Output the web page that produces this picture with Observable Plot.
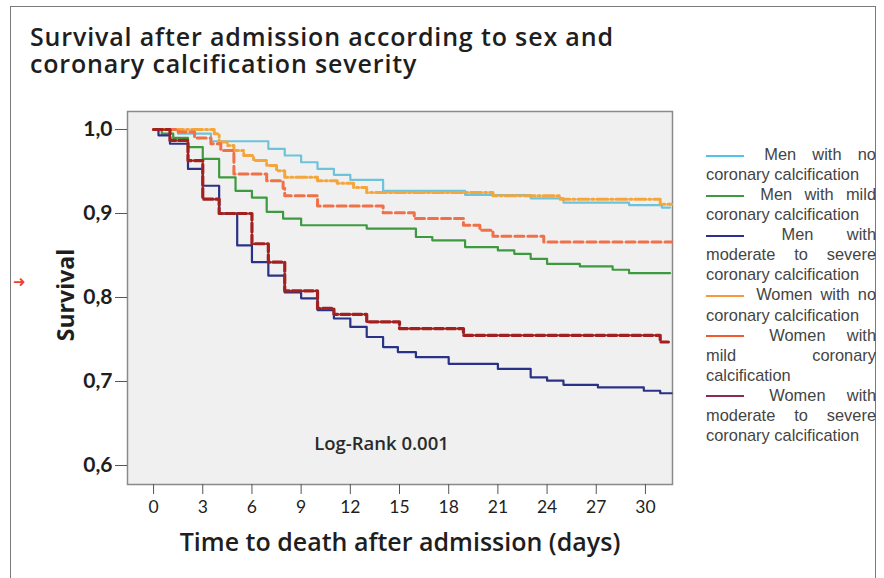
<!DOCTYPE html>
<html>
<head>
<meta charset="utf-8">
<script src="https://cdn.jsdelivr.net/npm/d3@7"></script>
<script src="https://cdn.jsdelivr.net/npm/@observablehq/plot@0.6"></script>
<style>
  html, body { margin: 0; padding: 0; background: #fff; }
  #wrap { position: relative; width: 884px; height: 578px; overflow: hidden; background: #fff; }
  #border { position: absolute; left: 10px; top: 6px; width: 866px; height: 640px; border: 1.5px solid #7a7a7a; box-sizing: border-box; }
  .title { position: absolute; left: 30px; height: 26px; font-family: "Open Sans", Lato, sans-serif; font-weight: 600; font-size: 25px; line-height: 26px; letter-spacing: 0.85px; color: #1e1e1e; white-space: nowrap; }
  #t1 { top: 23px; }
  #t2 { top: 50px; }
  #chart { position: absolute; left: 0; top: 0; }
  #ylabel { position: absolute; left: 65px; top: 295px; transform: translate(-50%, -50%) rotate(-90deg); font-family: "Open Sans", Lato, sans-serif; font-weight: 700; font-size: 23px; color: #1e1e1e; white-space: nowrap; }
  #xlabel { position: absolute; left: 400px; top: 541px; transform: translate(-50%, -50%); font-family: "Open Sans", Lato, sans-serif; font-weight: 600; font-size: 25px; color: #1e1e1e; white-space: nowrap; }
  #arrow { position: absolute; left: 13px; top: 273px; font-family: "DejaVu Sans", sans-serif; font-weight: bold; font-size: 15px; color: #e8452c; }
  #legend { position: absolute; left: 706px; top: 144px; width: 170px; font-family: "Liberation Sans", Arial, sans-serif; font-size: 16.4px; line-height: 20.07px; color: #444; }
  #legend .item { text-align: justify; text-align-last: left; }
  #legend .sw { display: inline-block; width: 38px; height: 0; border-top: 2.5px solid; vertical-align: middle; margin-right: 4px; }
</style>
</head>
<body>
<div id="wrap">
  <div id="border"></div>
  <div class="title" id="t1">Survival after admission according to sex and</div>
  <div class="title" id="t2">coronary calcification severity</div>
  <div id="chart"></div>
  <div id="ylabel">Survival</div>
  <div id="xlabel">Time to death after admission (days)</div>
  <div id="arrow">➜</div>
  <div id="legend"></div>
</div>
<script>
// ---- Data ----
const groups = [
  "Men with no coronary calcification",
  "Men with mild coronary calcification",
  "Men with moderate to severe coronary calcification",
  "Women with no coronary calcification",
  "Women with mild coronary calcification",
  "Women with moderate to severe coronary calcification"
];

const menNoDays   = [0, 1.5, 3.5, 7, 8, 9, 10, 11, 12, 14, 19, 23, 25, 29, 31, 31.5];
const menNoSurv   = [1.0, 0.995, 0.986, 0.977, 0.969, 0.961, 0.953, 0.946, 0.940, 0.927, 0.922, 0.918, 0.913, 0.910, 0.907, 0.907];

const menMildDays = [0, 0.5, 1.2, 2.1, 3, 4, 5, 6, 6.9, 7.9, 9, 13, 16, 17, 19, 21, 22, 23, 24, 26, 28, 29, 31.5];
const menMildSurv = [1.0, 0.995, 0.99, 0.979, 0.965, 0.943, 0.927, 0.919, 0.902, 0.894, 0.886, 0.882, 0.872, 0.868, 0.860, 0.856, 0.852, 0.846, 0.840, 0.837, 0.833, 0.829, 0.829];

const menModDays  = [0, 0.3, 1, 2.1, 3, 4, 5.1, 6, 7, 8, 9, 10, 11, 12, 13, 14, 14.9, 16, 18, 21, 23, 24, 25, 27.1, 29.9, 30.9, 31.6];
const menModSurv  = [1.0, 0.993, 0.983, 0.953, 0.933, 0.900, 0.862, 0.842, 0.826, 0.806, 0.799, 0.785, 0.775, 0.765, 0.753, 0.741, 0.735, 0.729, 0.721, 0.715, 0.705, 0.701, 0.696, 0.693, 0.689, 0.686, 0.686];

const womenNoDays   = [0, 3.7, 4, 4.5, 4.9, 5.5, 6.1, 6.9, 7.5, 8, 10, 11.2, 12.2, 13, 20.7, 24.8, 30.9, 31.6];
const womenNoSurv   = [1.0, 0.995, 0.985, 0.981, 0.975, 0.969, 0.963, 0.957, 0.951, 0.943, 0.939, 0.936, 0.931, 0.925, 0.921, 0.917, 0.911, 0.911];

const womenMildDays = [0, 1.5, 2.5, 3.5, 4.1, 4.9, 6.9, 7.9, 8, 10, 14, 15.9, 18.9, 19.9, 20.7, 23.8, 31.6];
const womenMildSurv = [1.0, 0.997, 0.99, 0.983, 0.975, 0.947, 0.939, 0.93, 0.921, 0.909, 0.901, 0.894, 0.886, 0.88, 0.873, 0.866, 0.866];

const womenModDays  = [0, 1, 2.1, 3, 4, 6, 7, 8, 10, 11, 13, 15, 18.9, 30.9, 31.4];
const womenModSurv  = [1.0, 0.987, 0.963, 0.917, 0.900, 0.864, 0.842, 0.808, 0.787, 0.780, 0.771, 0.763, 0.755, 0.747, 0.747];

const xTicks = [0, 3, 6, 9, 12, 15, 18, 21, 24, 27, 30];
const yTicks = [0.6, 0.7, 0.8, 0.9, 1.0];
const logRankText = "Log-Rank 0.001";
const logRankAt = {day: 13.9, surv: 0.626};

// ---- Styles ----
const lineColors   = ["#6cc3dc", "#3d9a3f", "#2a3287", "#f4a53c", "#f07048", "#a2201f"];
const legendColors = ["#4fc3e8", "#3d9a3f", "#2b2f8f", "#f5993a", "#ef5a2e", "#8b2a52"];
const dashes       = [null, null, null, "11,3,2,3", "9,4", "9,3"];
const widths       = [2.2, 2.2, 2.2, 3, 3, 3.2];
const drawOrder    = [0, 1, 2, 3, 4, 5];

const dayArrays  = [menNoDays, menMildDays, menModDays, womenNoDays, womenMildDays, womenModDays];
const survArrays = [menNoSurv, menMildSurv, menModSurv, womenNoSurv, womenMildSurv, womenModSurv];

const tables = dayArrays.map((days, i) => days.map((d, j) => ({day: d, surv: survArrays[i][j], group: groups[i]})));

const chart = Plot.plot({
  width: 884,
  height: 578,
  marginLeft: 127,
  marginRight: 212,
  marginTop: 111,
  marginBottom: 94,
  style: {background: "transparent", fontFamily: "Lato, 'Open Sans', sans-serif", color: "#1e1e1e"},
  x: {domain: [-1.59, 31.65]},
  y: {domain: [0.5774, 1.0214]},
  marks: [
    Plot.frame({fill: "#f0f0f0", stroke: "#8a8a8a", strokeWidth: 1.5}),
    Plot.axisY({ticks: yTicks, tickFormat: d => d.toFixed(1).replace(".", ","), tickSize: 12, tickPadding: 3, fontSize: 21, fontWeight: "bold", label: null, stroke: "#555"}),
    Plot.axisX({ticks: xTicks, tickSize: 10, tickPadding: 6, fontSize: 17.5, label: null, stroke: "#555"}),
    ...drawOrder.map(i => Plot.line(tables[i], {
      x: "day", y: "surv", curve: "step-after",
      stroke: lineColors[i], strokeWidth: widths[i],
      strokeDasharray: dashes[i] ?? undefined
    })),
    Plot.text([logRankText], {x: () => logRankAt.day, y: () => logRankAt.surv, text: d => d, fontSize: 18.5, fontWeight: 600, fontFamily: "'Open Sans', sans-serif", fill: "#2a2a2a"})
  ]
});
document.getElementById("chart").appendChild(chart);

const legend = document.getElementById("legend");
groups.forEach((g, i) => {
  const item = document.createElement("div");
  item.className = "item";
  const sw = document.createElement("span");
  sw.className = "sw";
  sw.style.borderTopColor = legendColors[i];
  item.appendChild(sw);
  item.appendChild(document.createTextNode(" " + g));
  legend.appendChild(item);
});
</script>
</body>
</html>
